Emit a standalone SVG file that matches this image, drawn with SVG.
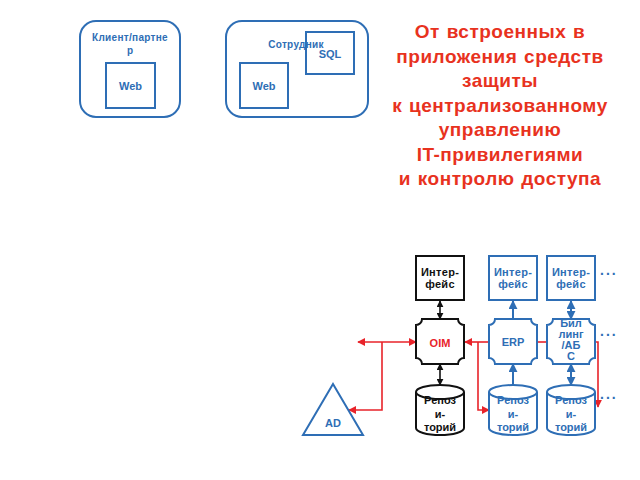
<svg xmlns="http://www.w3.org/2000/svg" width="640" height="480" viewBox="0 0 640 480">
<style>
.bl{fill:#fff;stroke:#2e6eb5;stroke-width:2}
.bk{fill:#fff;stroke:#111;stroke-width:2}
.tb{font-family:"Liberation Sans",Arial,sans-serif;font-weight:bold;fill:#2e6eb5;text-anchor:middle}
.tk{font-family:"Liberation Sans",Arial,sans-serif;font-weight:bold;fill:#111;text-anchor:middle}
.title{font-family:"Liberation Sans",Arial,sans-serif;font-weight:bold;fill:#e8321e;text-anchor:middle;font-size:19px;letter-spacing:0.5px;word-spacing:1px}
.r{fill:none;stroke:#e8232a;stroke-width:1.6}
.k{fill:none;stroke:#111;stroke-width:1.6}
.b{fill:none;stroke:#2e6eb5;stroke-width:2}
.dots{font-family:"Liberation Sans",Arial,sans-serif;font-weight:bold;font-size:14px;fill:#2e6eb5;letter-spacing:2px}
</style>
<defs>
<marker id="ar" viewBox="0 0 10 10" refX="9" refY="5" markerWidth="8" markerHeight="8" markerUnits="userSpaceOnUse" orient="auto-start-reverse"><path d="M0 0L10 5L0 10z" fill="#e8232a"/></marker>
<marker id="ak" viewBox="0 0 10 10" refX="9" refY="5" markerWidth="7" markerHeight="7" markerUnits="userSpaceOnUse" orient="auto-start-reverse"><path d="M0 0L10 5L0 10z" fill="#111"/></marker>
<marker id="ab" viewBox="0 0 10 10" refX="9" refY="5" markerWidth="9" markerHeight="9" markerUnits="userSpaceOnUse" orient="auto-start-reverse"><path d="M0 0L10 5L0 10z" fill="#2e6eb5"/></marker>
<path id="oct" d="M6 0H42A6 6 0 0 0 48 6V39A6 6 0 0 0 42 45H6A6 6 0 0 0 0 39V6A6 6 0 0 0 6 0Z"/>
</defs>
<rect width="640" height="480" fill="#fff"/>

<g id="client">
<rect x="80" y="21" width="100" height="96" rx="16" class="bl"/>
<text x="130" y="41" class="tb" font-size="10" letter-spacing="0.3">Клиент/партне</text>
<text x="130" y="54" class="tb" font-size="10">р</text>
<g id="client-web"><rect x="106" y="63" width="49" height="45" class="bl"/>
<text x="130.5" y="90" class="tb" font-size="11">Web</text></g>
</g>

<g id="employee">
<rect x="226" y="21" width="142" height="96" rx="16" class="bl"/>
<g id="emp-sql"><rect x="306" y="32" width="48" height="42" class="bl"/>
<text x="330" y="58" class="tb" font-size="11">SQL</text></g>
<text x="296" y="48" class="tb" font-size="10" letter-spacing="0.3">Сотрудник</text>
<g id="emp-web"><rect x="240" y="63" width="48" height="45" class="bl"/>
<text x="264" y="90" class="tb" font-size="11">Web</text></g>
</g>

<g id="title">
<text x="500" y="38" class="title">От встроенных в</text>
<text x="500" y="62.5" class="title">приложения средств</text>
<text x="500" y="87" class="title">защиты</text>
<text x="500" y="111.5" class="title">к централизованному</text>
<text x="500" y="136" class="title">управлению</text>
<text x="500" y="160.5" class="title">IT-привилегиями</text>
<text x="500" y="185" class="title">и контролю доступа</text>
</g>

<g id="connectors">
<path class="r" d="M358 342H416" marker-start="url(#ar)" marker-end="url(#ar)"/>
<path class="r" d="M382 342V410H349" marker-end="url(#ar)"/>
<path class="r" d="M489 342H465" marker-end="url(#ar)"/>
<path class="r" d="M478 342V410H489" marker-end="url(#ar)"/>
<path class="r" d="M537 342H547"/>
<path class="r" d="M595 342H598V407" marker-end="url(#ar)"/>
<path class="k" d="M440 301V319" marker-start="url(#ak)" marker-end="url(#ak)"/>
<path class="k" d="M440 364V385" marker-start="url(#ak)" marker-end="url(#ak)"/>
<path class="b" d="M513 319V301" marker-end="url(#ab)"/>
<path class="b" d="M513 385V364" marker-end="url(#ab)"/>
<path class="b" d="M571 301V319" marker-start="url(#ab)" marker-end="url(#ab)"/>
<path class="b" d="M571 364V385" marker-start="url(#ab)" marker-end="url(#ab)"/>
</g>

<g id="iface-oim">
<rect x="416" y="256" width="48" height="44" class="bk"/>
<text x="440" y="276" class="tk" font-size="11" letter-spacing="0.3">Интер-</text>
<text x="440" y="288" class="tk" font-size="11" letter-spacing="0.3">фейс</text>
</g>
<g id="iface-erp">
<rect x="489" y="256" width="48" height="44" class="bl"/>
<text x="513" y="276" class="tb" font-size="11" letter-spacing="0.3">Интер-</text>
<text x="513" y="288" class="tb" font-size="11" letter-spacing="0.3">фейс</text>
</g>
<g id="iface-bill">
<rect x="547" y="256" width="48" height="44" class="bl"/>
<text x="571" y="276" class="tb" font-size="11" letter-spacing="0.3">Интер-</text>
<text x="571" y="288" class="tb" font-size="11" letter-spacing="0.3">фейс</text>
</g>

<g id="oim">
<use href="#oct" x="416" y="319" class="bk"/>
<text x="440" y="347" class="tk" font-size="11" style="fill:#e8232a">OIM</text>
</g>
<g id="erp">
<use href="#oct" x="489" y="319" class="bl"/>
<text x="513" y="346" class="tb" font-size="11">ERP</text>
</g>
<g id="billing">
<use href="#oct" x="547" y="319" class="bl"/>
<text x="571" y="327" class="tb" font-size="11">Бил</text>
<text x="571" y="338" class="tb" font-size="11">линг</text>
<text x="571" y="349" class="tb" font-size="11">/АБ</text>
<text x="571" y="360" class="tb" font-size="11">С</text>
</g>

<g id="repo-oim">
<path d="M416 392V428A24 7 0 0 0 464 428V392" class="bk"/>
<text x="440" y="404" class="tk" font-size="11">Репоз</text>
<text x="440" y="418" class="tk" font-size="11">и-</text>
<text x="440" y="431" class="tk" font-size="11">торий</text>
<ellipse cx="440" cy="392" rx="24" ry="7" fill="none" stroke="#111" stroke-width="2"/>
</g>
<g id="repo-erp">
<path d="M489 392V428A24 7 0 0 0 537 428V392" class="bl"/>
<text x="513" y="404" class="tb" font-size="11">Репоз</text>
<text x="513" y="418" class="tb" font-size="11">и-</text>
<text x="513" y="431" class="tb" font-size="11">торий</text>
<ellipse cx="513" cy="392" rx="24" ry="7" fill="none" stroke="#2e6eb5" stroke-width="2"/>
</g>
<g id="repo-bill">
<path d="M547 392V428A24 7 0 0 0 595 428V392" class="bl"/>
<text x="571" y="404" class="tb" font-size="11">Репоз</text>
<text x="571" y="418" class="tb" font-size="11">и-</text>
<text x="571" y="431" class="tb" font-size="11">торий</text>
<ellipse cx="571" cy="392" rx="24" ry="7" fill="none" stroke="#2e6eb5" stroke-width="2"/>
</g>

<g id="ad">
<path d="M333 384L363 435H303Z" class="bl"/>
<text x="333" y="427" class="tb" font-size="11">AD</text>
</g>

<g id="dots">
<text x="600" y="275" class="dots">...</text>
<text x="600" y="336" class="dots">...</text>
<text x="600" y="399" class="dots">...</text>
</g>
</svg>
